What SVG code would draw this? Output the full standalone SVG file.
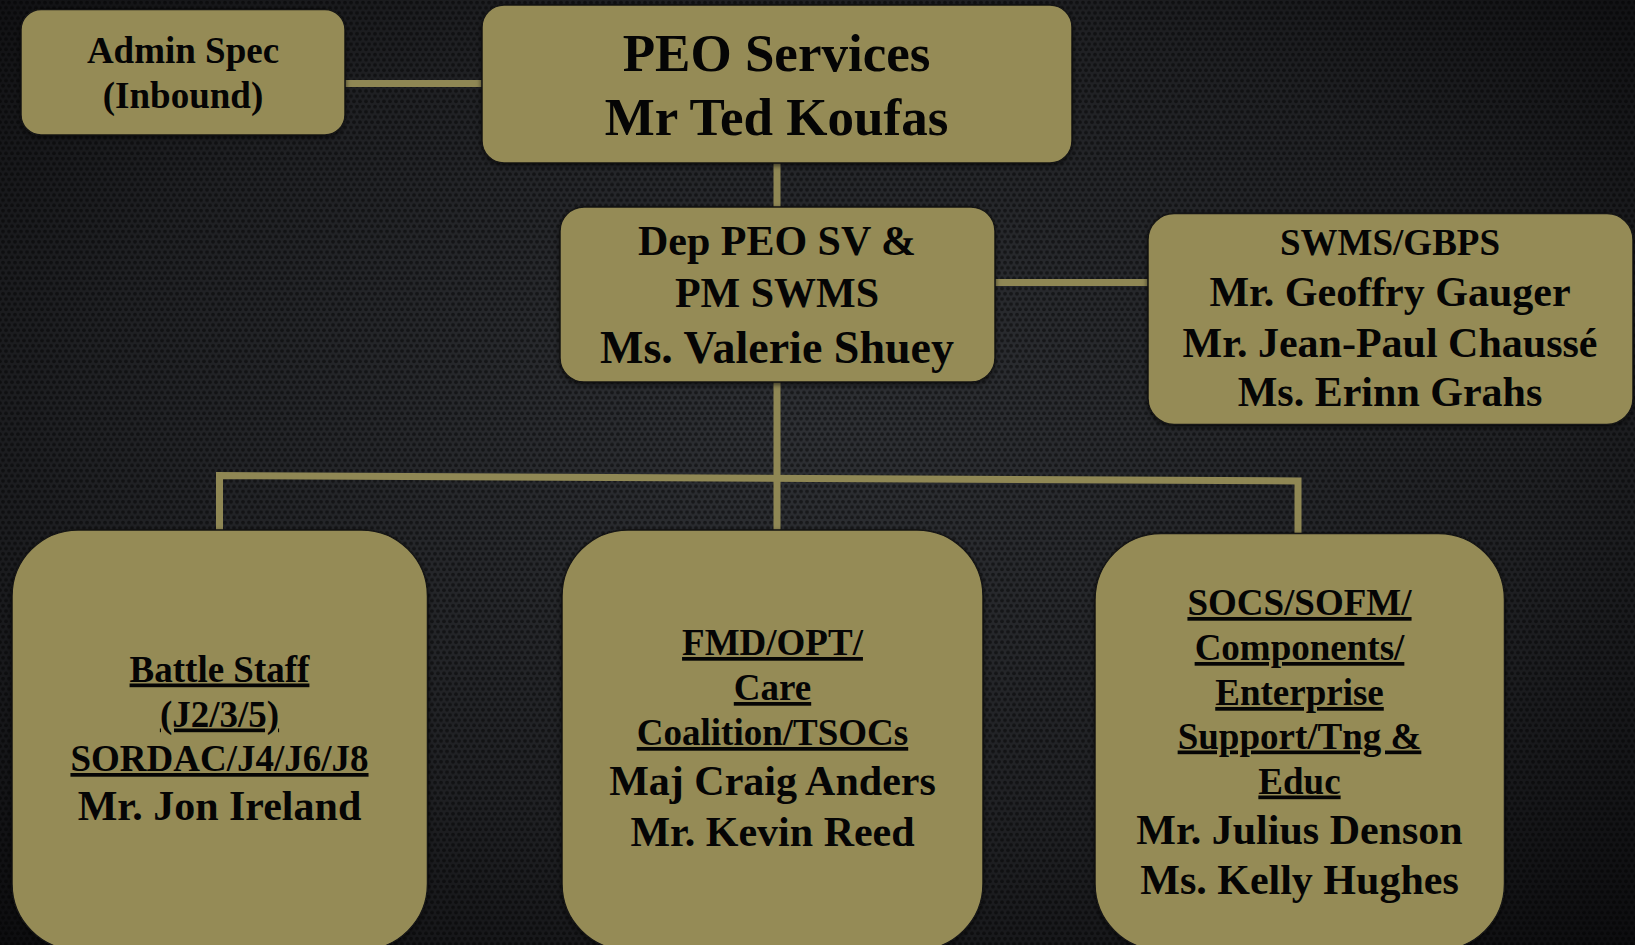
<svg xmlns="http://www.w3.org/2000/svg" width="1635" height="945" viewBox="0 0 1635 945">
<defs>
<radialGradient id="bg" cx="50%" cy="45%" r="75%">
<stop offset="0" stop-color="#2e3034"/>
<stop offset="0.6" stop-color="#1f2023"/>
<stop offset="1" stop-color="#0c0c0e"/>
</radialGradient>
<pattern id="mesh" width="6" height="10.4" patternUnits="userSpaceOnUse">
<circle cx="3" cy="2.6" r="1.9" fill="#000" fill-opacity="0.45"/>
<circle cx="0" cy="7.8" r="1.9" fill="#000" fill-opacity="0.45"/>
<circle cx="6" cy="7.8" r="1.9" fill="#000" fill-opacity="0.45"/>
</pattern>
<filter id="sh" x="-10%" y="-10%" width="120%" height="130%">
<feDropShadow dx="0" dy="2" stdDeviation="2.5" flood-color="#000" flood-opacity="0.6"/>
</filter>
<style>
.box{fill:#958b56;stroke:#141414;stroke-width:1.5;filter:url(#sh)}
.con{fill:none;stroke:#8f8754;stroke-width:7;stroke-linejoin:miter}
text{font-family:"Liberation Serif","Times New Roman",serif;font-weight:bold;fill:#050505;text-anchor:middle}
.s37{font-size:37px}
.s42{font-size:42px}
.s46{font-size:46px}
.s53{font-size:53px}
.u{text-decoration:underline}
</style>
</defs>
<rect width="1635" height="945" fill="url(#bg)"/>
<rect width="1635" height="945" fill="url(#mesh)"/>

<g id="connectors">
<line class="con" x1="340" y1="83.5" x2="486" y2="83.5"/>
<line class="con" x1="777" y1="160" x2="777" y2="210"/>
<line class="con" x1="990" y1="282.5" x2="1152" y2="282.5"/>
<line class="con" x1="777" y1="378" x2="777" y2="534"/>
<path class="con" d="M219.5,534 V475.5 L1298,481 V537"/>
</g>

<g id="admin-spec">
<rect class="box" x="21" y="9.5" width="324" height="125.5" rx="20"/>
<text class="s37" x="183" y="63">Admin Spec</text>
<text class="s37" x="183" y="108">(Inbound)</text>
</g>

<g id="peo-services">
<rect class="box" x="482" y="5" width="590" height="158" rx="22"/>
<text class="s53" x="776.5" y="71">PEO Services</text>
<text class="s53" x="776.5" y="135">Mr Ted Koufas</text>
</g>

<g id="dep-peo">
<rect class="box" x="560" y="207" width="435" height="175" rx="24"/>
<text class="s42" x="777" y="255">Dep PEO SV &amp;</text>
<text class="s42" x="777" y="306.5">PM SWMS</text>
<text class="s46" x="777" y="362.5">Ms. Valerie Shuey</text>
</g>

<g id="swms-gbps">
<rect class="box" x="1148" y="213.5" width="485" height="211" rx="26"/>
<text class="s37" x="1390" y="255">SWMS/GBPS</text>
<text class="s42" x="1390" y="306">Mr. Geoffry Gauger</text>
<text class="s42" x="1390" y="356.5">Mr. Jean-Paul Chaussé</text>
<text class="s42" x="1390" y="406">Ms. Erinn Grahs</text>
</g>

<g id="battle-staff">
<rect class="box" x="12" y="530" width="415.5" height="420" rx="66"/>
<text class="s37 u" x="219.5" y="681.5">Battle Staff</text>
<text class="s37 u" x="219.5" y="726.5">(J2/3/5)</text>
<text class="s37 u" x="219.5" y="771">SORDAC/J4/J6/J8</text>
<text class="s42" x="219.5" y="820">Mr. Jon Ireland</text>
</g>

<g id="fmd-opt">
<rect class="box" x="562" y="530" width="421" height="420" rx="66"/>
<text class="s37 u" x="772.5" y="655">FMD/OPT/</text>
<text class="s37 u" x="772.5" y="700">Care</text>
<text class="s37 u" x="772.5" y="745">Coalition/TSOCs</text>
<text class="s42" x="772.5" y="795">Maj Craig Anders</text>
<text class="s42" x="772.5" y="846">Mr. Kevin Reed</text>
</g>

<g id="socs-sofm">
<rect class="box" x="1095" y="533.5" width="409.5" height="416.5" rx="66"/>
<text class="s37 u" x="1299.5" y="615">SOCS/SOFM/</text>
<text class="s37 u" x="1299.5" y="660">Components/</text>
<text class="s37 u" x="1299.5" y="705">Enterprise</text>
<text class="s37 u" x="1299.5" y="748.5">Support/Tng &amp;</text>
<text class="s37 u" x="1299.5" y="793.5">Educ</text>
<text class="s42" x="1299.5" y="843.5">Mr. Julius Denson</text>
<text class="s42" x="1299.5" y="894">Ms. Kelly Hughes</text>
</g>
</svg>
